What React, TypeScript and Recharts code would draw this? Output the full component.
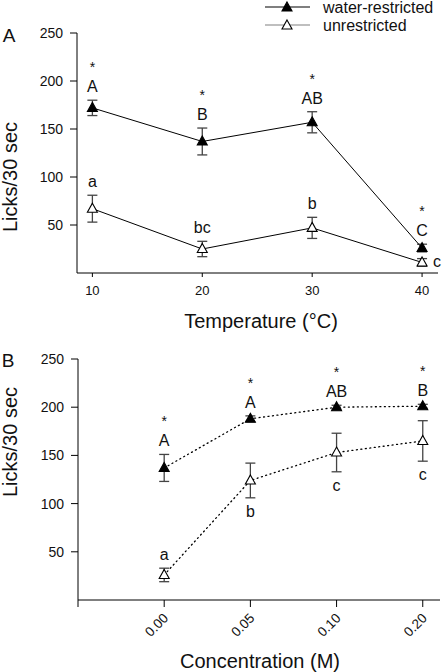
import React from 'react'
import { ComposedChart, ErrorBar, Line, Scatter, XAxis, YAxis } from 'recharts'

const FONT = '"Liberation Sans", Arial, Helvetica, sans-serif'

// A — licks by temperature
const temperatures = [10, 20, 30, 40]
const tempRestricted = [172, 137, 157, 26]
const tempRestrictedSem = [8, 14, 11, 4]
const tempUnrestricted = [67, 25, 47, 11]
const tempUnrestrictedSem = [14, 8, 11, 4]
const tempRestrictedLetters = ['A', 'B', 'AB', 'C']
const tempUnrestrictedLetters = ['a', 'bc', 'b', 'c']
const tempStars = [true, true, true, true]

// B — licks by concentration (drawn at evenly spaced category slots)
const concentrations = ['0.00', '0.05', '0.10', '0.20']
const concRestricted = [137, 188, 200, 201]
const concRestrictedSem = [14, 3, 2, 2]
const concUnrestricted = [26, 124, 153, 165]
const concUnrestrictedSem = [7, 18, 20, 21]
const concRestrictedLetters = ['A', 'A', 'AB', 'B']
const concUnrestrictedLetters = ['a', 'b', 'c', 'c']
const concStars = [true, true, true, true]

const yTicks = [50, 100, 150, 200, 250]

// where the lowercase letters sit relative to the open-triangle error bar
const tempUnrestrictedPlace = ['above', 'above', 'above', 'right']
const concUnrestrictedPlace = ['above', 'below', 'below', 'below']

type Place = 'above' | 'below' | 'right'

function series(xs: number[], a: number[], aErr: number[], b: number[], bErr: number[]) {
  return xs.map((x, i) => ({ x, restricted: a[i], restrictedErr: aErr[i], unrestricted: b[i], unrestrictedErr: bErr[i] }))
}

function annotations(xs: number[], means: number[], sems: number[], letters: string[], stars: boolean[] | null, places: string[]) {
  return xs.map((x, i) => {
    const place = places[i] as Place
    const y = place === 'above' ? means[i] + sems[i] : place === 'below' ? means[i] - sems[i] : means[i]
    return { x, y, letter: letters[i], star: stars ? stars[i] : false, place }
  })
}

const tempData = series(temperatures, tempRestricted, tempRestrictedSem, tempUnrestricted, tempUnrestrictedSem)
const tempNotes = [
  ...annotations(temperatures, tempRestricted, tempRestrictedSem, tempRestrictedLetters, tempStars, temperatures.map(() => 'above')),
  ...annotations(temperatures, tempUnrestricted, tempUnrestrictedSem, tempUnrestrictedLetters, null, tempUnrestrictedPlace),
]

const concIdx = concentrations.map((_, i) => i)
const concData = series(concIdx, concRestricted, concRestrictedSem, concUnrestricted, concUnrestrictedSem)
const concNotes = [
  ...annotations(concIdx, concRestricted, concRestrictedSem, concRestrictedLetters, concStars, concIdx.map(() => 'above')),
  ...annotations(concIdx, concUnrestricted, concUnrestrictedSem, concUnrestrictedLetters, null, concUnrestrictedPlace),
]

function triangle(filled: boolean) {
  return (props: any) => {
    const { cx, cy, index } = props
    if (cx == null || cy == null) return <g key={index} />
    return (
      <path
        key={index}
        d={`M${cx},${cy - 5.5}L${cx + 5},${cy + 3.5}L${cx - 5},${cy + 3.5}Z`}
        fill={filled ? '#000' : '#fff'}
        stroke="#000"
        strokeWidth={1.1}
      />
    )
  }
}

function Note(props: any) {
  const { cx, cy } = props
  const p = props.payload ?? props
  if (cx == null || cy == null) return <g />
  const txt = { fontFamily: FONT, fontSize: 16, fill: '#111' }
  if (p.place === 'right') {
    return <text x={cx + 11} y={cy + 5} textAnchor="start" {...txt}>{p.letter}</text>
  }
  if (p.place === 'below') {
    return <text x={cx} y={cy + 19} textAnchor="middle" {...txt}>{p.letter}</text>
  }
  return (
    <g>
      <text x={cx} y={cy - 8} textAnchor="middle" {...txt}>{p.letter}</text>
      {p.star && (
        <text x={cx} y={cy - 28} textAnchor="middle" fontFamily={FONT} fontSize={14} fill="#111">*</text>
      )}
    </g>
  )
}

function ConcTick(props: any) {
  const { x, y, payload } = props
  const label = concentrations[payload.value] ?? ''
  const tx = x + 5
  const ty = y + 10
  return (
    <text x={tx} y={ty} transform={`rotate(-45, ${tx}, ${ty})`} textAnchor="end" fontFamily={FONT} fontSize={13.5} fill="#111">
      {label}
    </text>
  )
}

const yTick = { fontFamily: FONT, fontSize: 14, fill: '#111' }
const xTick = { fontFamily: FONT, fontSize: 13, fill: '#111' }

function Title({ x, y, children, rotate = false, size = 20 }: { x: number; y: number; children: React.ReactNode; rotate?: boolean; size?: number }) {
  return (
    <div
      style={{
        position: 'absolute',
        left: x - 120,
        top: y - 14,
        width: 240,
        height: 28,
        lineHeight: '28px',
        textAlign: 'center',
        fontFamily: FONT,
        fontSize: size,
        color: '#111',
        transform: rotate ? 'rotate(-90deg)' : undefined,
        whiteSpace: 'nowrap',
      }}
    >
      {children}
    </div>
  )
}

function Legend() {
  const rows = [
    { label: 'water-restricted', y: 7, filled: true, stroke: '#000' },
    { label: 'unrestricted', y: 25, filled: false, stroke: '#808080' },
  ]
  return (
    <svg width={443} height={36} style={{ position: 'absolute', left: 0, top: 0 }}>
      {rows.map((r) => (
        <g key={r.label}>
          <line x1={265} x2={310} y1={r.y} y2={r.y} stroke={r.stroke} strokeWidth={1.2} />
          {triangle(r.filled)({ cx: 287, cy: r.y + 0.5, index: r.label })}
          <text x={323} y={r.y + 6} fontFamily={FONT} fontSize={16} fill="#111">{r.label}</text>
        </g>
      ))}
    </svg>
  )
}

export default function App() {
  return (
    <div style={{ position: 'absolute', left: 0, top: 0, width: 443, height: 672, background: '#fff', overflow: 'hidden' }}>
      <div style={{ position: 'absolute', left: 0, top: 0 }}>
        <ComposedChart width={443} height={330} data={tempData} margin={{ top: 33, right: 5, bottom: 0, left: 0 }}>
          <XAxis
            dataKey="x"
            type="number"
            domain={[8.6, 41.45]}
            ticks={temperatures}
            height={57}
            tickSize={4}
            tickMargin={9}
            stroke="#000"
            tick={xTick}
          />
          <YAxis
            type="number"
            domain={[0, 250]}
            ticks={yTicks}
            width={77}
            tickSize={7}
            tickMargin={7}
            stroke="#000"
            tick={yTick}
          />
          <Line dataKey="restricted" stroke="#000" strokeWidth={1} dot={triangle(true)} isAnimationActive={false}>
            <ErrorBar dataKey="restrictedErr" width={5} stroke="#444" strokeWidth={1.3} />
          </Line>
          <Line dataKey="unrestricted" stroke="#000" strokeWidth={1} dot={triangle(false)} isAnimationActive={false}>
            <ErrorBar dataKey="unrestrictedErr" width={5} stroke="#444" strokeWidth={1.3} />
          </Line>
          <Scatter data={tempNotes} dataKey="y" shape={Note} legendType="none" isAnimationActive={false} />
        </ComposedChart>
      </div>

      <div style={{ position: 'absolute', left: 0, top: 326 }}>
        <ComposedChart width={443} height={346} data={concData} margin={{ top: 33, right: 3, bottom: 0, left: 0 }}>
          <XAxis
            dataKey="x"
            type="number"
            domain={[-1, 3.2]}
            ticks={[-1, ...concIdx]}
            height={72}
            tickSize={7}
            tickMargin={2}
            stroke="#000"
            tick={<ConcTick />}
          />
          <YAxis
            type="number"
            domain={[0, 250]}
            ticks={yTicks}
            width={78}
            tickSize={7}
            tickMargin={7}
            stroke="#000"
            tick={yTick}
          />
          <Line
            dataKey="restricted"
            stroke="#000"
            strokeWidth={1.3}
            strokeDasharray="1 3.5"
            strokeLinecap="round"
            dot={triangle(true)}
            isAnimationActive={false}
          >
            <ErrorBar dataKey="restrictedErr" width={5} stroke="#444" strokeWidth={1.3} strokeDasharray="0" />
          </Line>
          <Line
            dataKey="unrestricted"
            stroke="#000"
            strokeWidth={1.3}
            strokeDasharray="1 3.5"
            strokeLinecap="round"
            dot={triangle(false)}
            isAnimationActive={false}
          >
            <ErrorBar dataKey="unrestrictedErr" width={5} stroke="#444" strokeWidth={1.3} strokeDasharray="0" />
          </Line>
          <Scatter data={concNotes} dataKey="y" shape={Note} legendType="none" isAnimationActive={false} />
        </ComposedChart>
      </div>

      <Legend />
      <Title x={9} y={36} size={19}>A</Title>
      <Title x={8} y={361} size={19}>B</Title>
      <Title x={10} y={177} rotate>Licks/30 sec</Title>
      <Title x={10} y={442} rotate>Licks/30 sec</Title>
      <Title x={261} y={321}>Temperature (°C)</Title>
      <Title x={260} y={661}>Concentration (M)</Title>
    </div>
  )
}
